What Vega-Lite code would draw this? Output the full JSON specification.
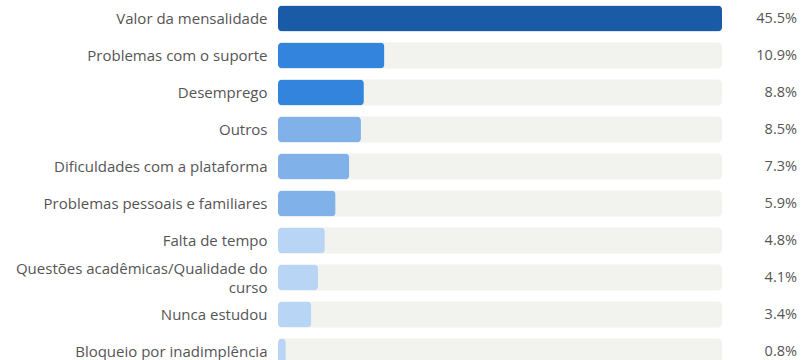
{
  "$schema": "https://vega.github.io/schema/vega-lite/v6.json",
  "width": 444,
  "height": 370,
  "autosize": "none",
  "padding": {"left": 278, "top": 0, "right": 79, "bottom": 0},
  "background": "white",
  "config": {"view": {"stroke": null}, "font": "Open Sans"},
  "data": {
    "values": [
      {"motivo": "Valor da mensalidade", "pct": 45.5, "grupo": "a"},
      {"motivo": "Problemas com o suporte", "pct": 10.9, "grupo": "b"},
      {"motivo": "Desemprego", "pct": 8.8, "grupo": "b"},
      {"motivo": "Outros", "pct": 8.5, "grupo": "c"},
      {"motivo": "Dificuldades com a plataforma", "pct": 7.3, "grupo": "c"},
      {"motivo": "Problemas pessoais e familiares", "pct": 5.9, "grupo": "c"},
      {"motivo": "Falta de tempo", "pct": 4.8, "grupo": "d"},
      {"motivo": "Questões acadêmicas/Qualidade do curso", "pct": 4.1, "grupo": "d"},
      {"motivo": "Nunca estudou", "pct": 3.4, "grupo": "d"},
      {"motivo": "Bloqueio por inadimplência", "pct": 0.8, "grupo": "d"}
    ]
  },
  "transform": [
    {"calculate": "format(datum.pct, '.1f') + '%'", "as": "rotulo"}
  ],
  "encoding": {
    "y": {
      "field": "motivo",
      "type": "nominal",
      "sort": null,
      "scale": {"paddingInner": 0.3, "paddingOuter": 0.15},
      "axis": {
        "title": null,
        "domain": false,
        "ticks": false,
        "labelPadding": 11,
        "labelFontSize": 15,
        "labelColor": "#555555",
        "labelLimit": 300,
        "labelLineHeight": 19,
        "labelOffset": {"condition": {"test": "datum.value == 'Questões acadêmicas/Qualidade do curso'", "value": -9}, "value": 0},
        "labelExpr": "datum.label == 'Questões acadêmicas/Qualidade do curso' ? ['Questões acadêmicas/Qualidade do', 'curso'] : datum.label"
      }
    }
  },
  "layer": [
    {
      "mark": {"type": "bar", "color": "#f2f2ef", "cornerRadius": 4},
      "encoding": {
        "x": {"datum": 0, "type": "quantitative", "scale": {"domain": [0, 45.5], "nice": false, "zero": true}, "axis": null},
        "x2": {"datum": 45.5}
      }
    },
    {
      "mark": {"type": "bar", "cornerRadius": 4},
      "encoding": {
        "x": {"field": "pct", "type": "quantitative", "axis": null},
        "color": {
          "field": "grupo",
          "type": "nominal",
          "legend": null,
          "scale": {"domain": ["a", "b", "c", "d"], "range": ["#1a5ba8", "#3384dc", "#80b1e8", "#b8d5f5"]}
        }
      }
    },
    {
      "mark": {"type": "text", "align": "right", "dx": 75, "fontSize": 14.5, "color": "#555555"},
      "encoding": {
        "x": {"datum": 45.5, "type": "quantitative"},
        "text": {"field": "rotulo", "type": "nominal"}
      }
    }
  ]
}
